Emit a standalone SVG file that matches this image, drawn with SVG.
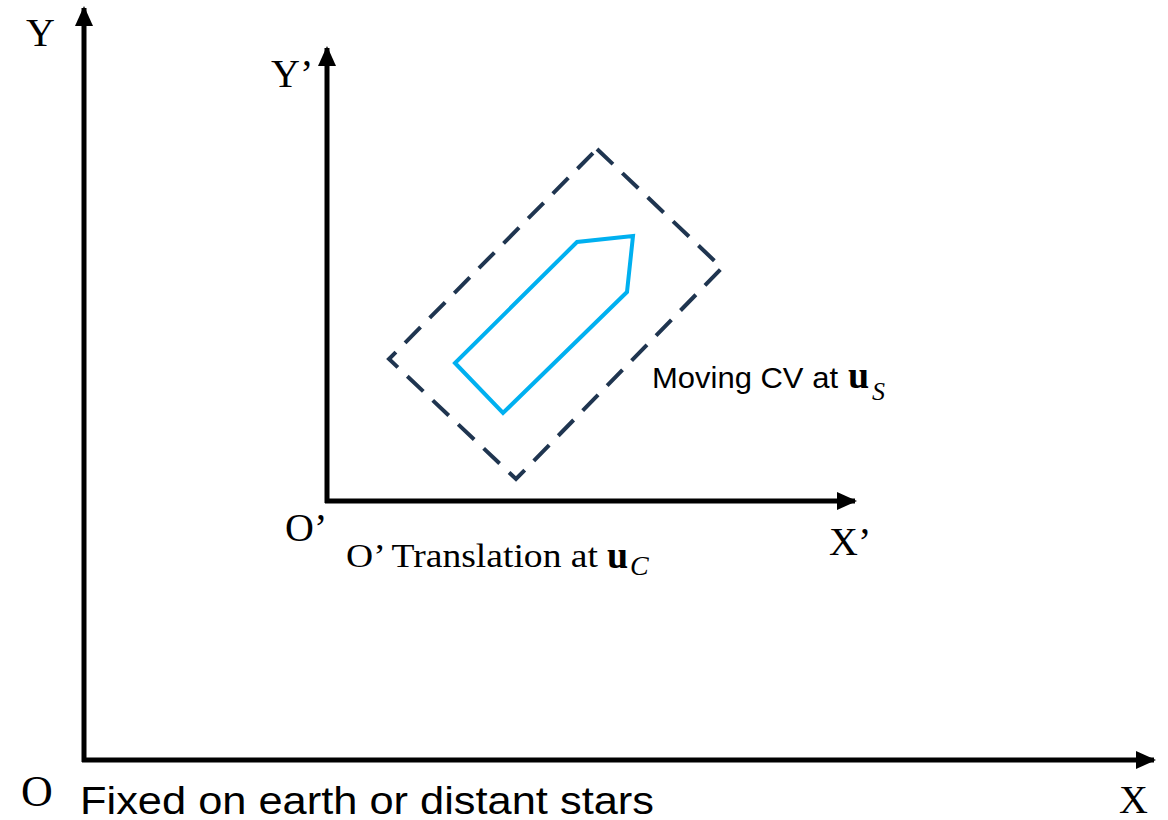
<svg xmlns="http://www.w3.org/2000/svg" width="1168" height="820" viewBox="0 0 1168 820">
<style>
.axis{stroke:#000;stroke-width:5;fill:none}
.serif{font-family:"Liberation Serif","Times New Roman",serif;fill:#000}
.sans{font-family:"Liberation Sans",Arial,sans-serif;fill:#000}
</style>
<defs>
<marker id="ah" markerUnits="userSpaceOnUse" markerWidth="20" markerHeight="20" viewBox="0 0 20 20" refX="18" refY="10" orient="auto">
<path d="M0,1 L20,10 L0,19 Z" fill="#000"/>
</marker>
</defs>
<rect width="1168" height="820" fill="#fff"/>
<g id="connectors">
<line class="axis" x1="84" y1="762" x2="84" y2="8" marker-end="url(#ah)"/>
<line class="axis" x1="82" y1="760" x2="1154" y2="760" marker-end="url(#ah)"/>
<line class="axis" x1="327" y1="503" x2="327" y2="48" marker-end="url(#ah)"/>
<line class="axis" x1="325" y1="501" x2="855" y2="501" marker-end="url(#ah)"/>
</g>
<g id="cv-box">
<polygon points="597,149 722,268 516,479 389,359" fill="none" stroke="#1f3550" stroke-width="4" stroke-dasharray="22,13"/>
</g>
<g id="boat">
<polygon points="455,363 503,413 627,292 633,236 577,242" fill="none" stroke="#00b0f0" stroke-width="4" stroke-linejoin="miter"/>
</g>
<g id="labels">
<text class="serif" x="26" y="46" font-size="40">Y</text>
<text class="serif" x="271" y="87" font-size="40">Y’</text>
<text class="serif" x="21" y="806" font-size="44">O</text>
<text class="serif" x="1119" y="813" font-size="40">X</text>
<text class="serif" x="285" y="541" font-size="40">O’</text>
<text class="serif" x="829" y="555" font-size="40">X’</text>
<text class="serif" x="346" y="567" font-size="34" textLength="252" lengthAdjust="spacingAndGlyphs">O’ Translation at</text>
<text class="serif" x="607" y="568" font-size="38" font-weight="bold">u</text>
<text class="serif" x="630" y="575" font-size="28" font-style="italic">C</text>
<text class="sans" x="652" y="388" font-size="29" textLength="186" lengthAdjust="spacingAndGlyphs">Moving CV at</text>
<text class="serif" x="848" y="388" font-size="38" font-weight="bold">u</text>
<text class="serif" x="872" y="400" font-size="26" font-style="italic">S</text>
<text class="sans" x="80" y="814" font-size="38" textLength="574" lengthAdjust="spacingAndGlyphs">Fixed on earth or distant stars</text>
</g>
</svg>
